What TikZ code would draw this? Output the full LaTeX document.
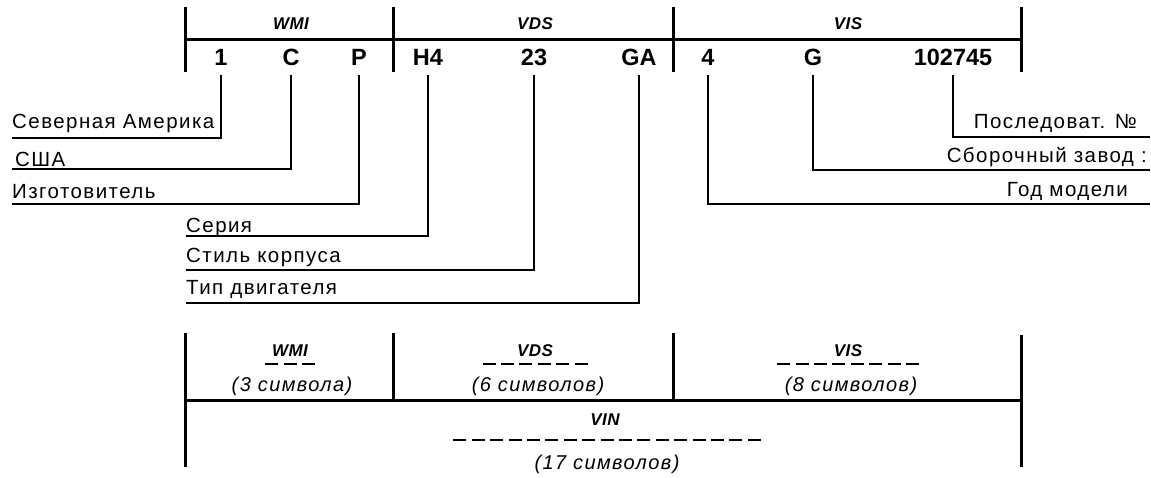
\documentclass[tikz,border=0pt]{standalone}
\usepackage{fontspec}
\setmainfont{Liberation Sans}
\newfontfamily\labfont[LetterSpace=7]{Liberation Sans}
\newfontfamily\secfont[LetterSpace=3]{Liberation Sans}

\tikzset{
  sepline/.style={line width=3pt},
  conn/.style={line width=1.4pt},
  dashrow/.style={line width=1.3pt, dash pattern=on 13pt off 5.4pt},
  ch/.style={font=\bfseries\fontsize{23.5}{28}\selectfont, anchor=base,
             inner xsep=0pt, inner ysep=10pt, text depth=0pt},
  sec/.style={font=\secfont\bfseries\itshape\fontsize{17}{20}\selectfont,
              anchor=base, inner sep=0pt},
  cnt/.style={font=\labfont\itshape\fontsize{20}{24}\selectfont,
              anchor=base, inner sep=0pt},
  lab/.style={font=\labfont\fontsize{20.5}{24}\selectfont, anchor=south west,
              inner xsep=0pt, inner ysep=7pt, text depth=0pt},
  rlab/.style={font=\labfont\fontsize{20.5}{24}\selectfont, anchor=south east,
               inner xsep=0pt, inner ysep=7pt, text depth=0pt},
}

\begin{document}
\begin{tikzpicture}[x=1pt, y=-1pt]
\useasboundingbox (0,0) rectangle (1151,477);

% ---- upper scale: section ruler ----
\draw[sepline] (185,7) -- (185,72);
\draw[sepline] (393,7) -- (393,72);
\draw[sepline] (673,7) -- (673,72);
\draw[sepline] (1021,7) -- (1021,72);
\draw[sepline] (185,39) -- (1021,39);

\node[sec] (wmiT) at (291,29) {WMI};
\node[sec] (vdsT) at (535,29) {VDS};
\node[sec] (visT) at (848,29) {VIS};

% ---- VIN characters ----
\node[ch] (c1) at (221,65) {1};
\node[ch] (c2) at (291,65) {C};
\node[ch] (c3) at (359,65) {P};
\node[ch] (c4) at (428,65) {H4};
\node[ch] (c5) at (534,65) {23};
\node[ch] (c6) at (639,65) {GA};
\node[ch] (c7) at (708,65) {4};
\node[ch] (c8) at (813,65) {G};
\node[ch] (c9) at (953,65) {102745};

% ---- meaning of each position ----
\node[lab, inner ysep=9pt] (l1) at (12,138) {Северная Америка};
\node[lab, inner ysep=2pt] (l2) at (12,169) {\hspace{3pt}США};
\node[lab, inner ysep=5pt] (l3) at (12,204) {Изготовитель};
\node[lab, inner ysep=3pt] (l4) at (186,236) {Серия};
\node[lab] (l5) at (186,270) {Стиль корпуса};
\node[lab, inner ysep=8pt] (l6) at (186,303) {Тип двигателя};

\node[rlab, inner ysep=8pt, inner xsep=13pt] (r1) at (1150,137) {Последоват. №};
\node[rlab, inner xsep=3pt] (r2) at (1150,170) {Сборочный завод :};
\node[rlab, inner xsep=22pt] (r3) at (1150,204) {Год модели};

\draw[conn] (c1.south) |- (l1.south west);
\draw[conn] (c2.south) |- (l2.south west);
\draw[conn] (c3.south) |- (l3.south west);
\draw[conn] (c4.south) |- (l4.south west);
\draw[conn] (c5.south) |- (l5.south west);
\draw[conn] (c6.south) |- (l6.south west);
\draw[conn] (c7.south) |- (r3.south east);
\draw[conn] (c8.south) |- (r2.south east);
\draw[conn] (c9.south) |- (r1.south east);

% ---- lower scale: lengths of the sections ----
\draw[sepline] (185,333) -- (185,467);
\draw[sepline] (393,333) -- (393,400);
\draw[sepline] (673,333) -- (673,400);
\draw[sepline] (1021,335) -- (1021,467);
\draw[sepline] (185,400) -- (1021,400);

\node[sec] (wmiB) at (290,356) {WMI};
\node[sec] (vdsB) at (535,356) {VDS};
\node[sec] (visB) at (848,356) {VIS};
\node[sec] (vinB) at (605,425) {VIN};

\draw[dashrow] (265.1,364) -- (314.9,364);
\draw[dashrow] (482.5,364) -- (587.5,364);
\draw[dashrow] (777.1,364) -- (918.9,364);
\draw[dashrow] (453.3,440) -- (760.7,440);

\node[cnt] (wmiN) at (292,391) {(3 символа)};
\node[cnt] (vdsN) at (538,391) {(6 символов)};
\node[cnt] (visN) at (851,391) {(8 символов)};
\node[cnt] (vinN) at (607,469) {(17 символов)};
\end{tikzpicture}
\end{document}
